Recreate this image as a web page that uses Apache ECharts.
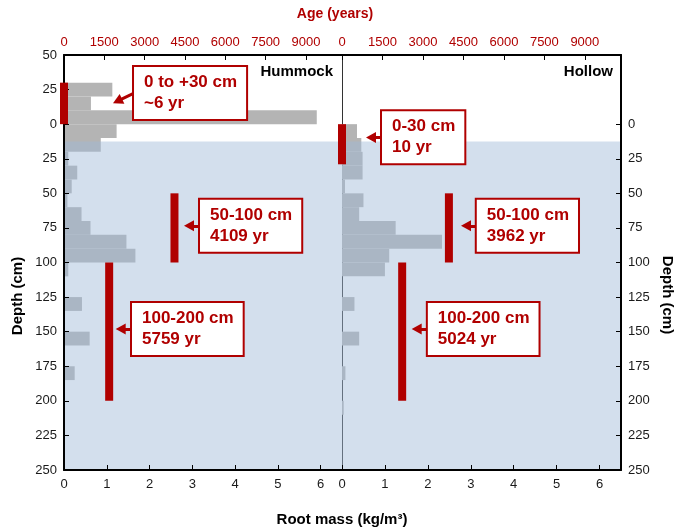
<!DOCTYPE html>
<html><head><meta charset="utf-8">
<script src="https://cdn.jsdelivr.net/npm/echarts@6/dist/echarts.min.js"></script>
<style>html,body{margin:0;padding:0;background:#fff}#c{width:674px;height:531px}</style>
</head><body><div id="c"></div>
<script>
// ---- data ----
const depthTicks = [-50, 250, 25];          // min, max, step (cm; negative = above surface)
const belowTicks = [0, 250, 25];            // right-hand depth labels (below surface only)
const massTicks = [0, 6.5, 1];              // root mass axis (kg/m3)
const ageTicks = [0, 10340, 1500];          // age axis (years)

const hummockTop    = [-30, -20, -10, 0, 10, 20, 30, 40, 50, 60, 70, 80, 90, 100, 125, 150, 175];
const hummockBottom = [-20, -10, 0, 10, 20, 30, 40, 50, 60, 70, 80, 90, 100, 110, 135, 160, 185];
const hummockMass   = [1.13, 0.63, 5.91, 1.23, 0.86, 0.1, 0.31, 0.18, 0.08, 0.41, 0.62, 1.46, 1.67, 0.1, 0.42, 0.6, 0.25];

const hollowTop    = [0, 10, 20, 30, 40, 50, 60, 70, 80, 90, 100, 125, 150, 175, 200];
const hollowBottom = [10, 20, 30, 40, 50, 60, 70, 80, 90, 100, 110, 135, 160, 185, 210];
const hollowMass   = [0.35, 0.45, 0.48, 0.48, 0.07, 0.5, 0.4, 1.25, 2.33, 1.1, 1.0, 0.29, 0.4, 0.08, 0.04];

const waterTableDepth = 12.5;

const hummockAge       = [0, 4109, 1680];
const hummockAgeTop    = [-30, 50, 100];
const hummockAgeBottom = [0, 100, 200];
const hummockLabels = ['0 to +30 cm\n~6 yr', '50-100 cm\n4109 yr', '100-200 cm\n5759 yr'];

const hollowAge       = [0, 3962, 2230];
const hollowAgeTop    = [0, 50, 100];
const hollowAgeBottom = [29, 100, 200];
const hollowLabels = ['0-30 cm\n10 yr', '50-100 cm\n3962 yr', '100-200 cm\n5024 yr'];

// ---- layout (annotation placement in data space) ----
const hummockBoxAt = [[1.637, -22.6], [3.18, 73.4], [1.59, 148]];
const hummockArrows = [[[1.637, -22.4], [1.251, -16.7]], [[3.18, 73.5], [2.923, 73.5]], [[1.59, 148], [1.326, 148]]];
const hollowBoxAt = [[0.932, 9.5], [3.14, 73.4], [2.0, 148]];
const hollowArrows = [[[0.932, 9.7], [0.676, 9.7]], [[3.138, 73.5], [2.889, 73.5]], [[1.997, 148], [1.74, 148]]];

const RED = '#b00000';
const GRAY = '#b4b4b4';
const FONT = 'Liberation Sans, Arial, sans-serif';

const PLOT_TOP = 55, PLOT_H = 415;

function zip(...arrs) { return arrs[0].map((_, i) => arrs.map(a => a[i])); }

const chart = echarts.init(document.getElementById('c'), null, {renderer: 'canvas'});

function massAxis(grid) {
  return {
    type: 'value', gridIndex: grid, position: 'bottom', min: massTicks[0], max: massTicks[1], interval: massTicks[2],
    z: 8,
    axisLine: {show: true, onZero: false, lineStyle: {color: '#000', width: 2}},
    axisTick: {show: true, inside: true, length: 5, lineStyle: {color: '#000', width: 1}},
    axisLabel: {show: true, margin: 8, fontSize: 13, color: '#1a1a1a', fontFamily: FONT, showMaxLabel: false, formatter: v => String(v)},
    splitLine: {show: false}
  };
}
function ageAxis(grid) {
  return {
    type: 'value', gridIndex: grid, position: 'top', min: ageTicks[0], max: ageTicks[1], interval: ageTicks[2],
    z: 8,
    axisLine: {show: true, onZero: false, lineStyle: {color: '#000', width: 2}},
    axisTick: {show: true, inside: true, length: 5, lineStyle: {color: '#000', width: 1}},
    axisLabel: {show: true, margin: 6, fontSize: 13, color: RED, fontFamily: FONT, showMaxLabel: false, formatter: v => String(v)},
    splitLine: {show: false}
  };
}
function depthAxis(grid, pos, labels, ticks, z, lineColor, lineWidth, range) {
  return {
    type: 'value', gridIndex: grid, position: pos, inverse: true,
    min: range[0], max: range[1], interval: range[2], z: z,
    axisLine: {show: lineWidth > 0, onZero: false, lineStyle: {color: lineColor, width: Math.max(lineWidth, 1)}},
    axisTick: {show: ticks, inside: true, length: 5, lineStyle: {color: '#000', width: 1}},
    axisLabel: {show: labels, margin: 7, fontSize: 13, color: '#1a1a1a', fontFamily: FONT, formatter: v => String(Math.abs(v))},
    splitLine: {show: false}
  };
}

function grayBars(xi, yi, tops, bottoms, mass) {
  return {
    type: 'custom', xAxisIndex: xi, yAxisIndex: yi, z: 2, silent: true,
    data: zip(tops, bottoms, mass),
    encode: {x: 2, y: 0},
    renderItem: (params, api) => {
      const p0 = api.coord([0, api.value(0)]);
      const p1 = api.coord([api.value(2), api.value(1)]);
      return {type: 'rect', shape: {x: p0[0], y: p0[1], width: p1[0] - p0[0], height: p1[1] - p0[1]}, style: {fill: GRAY}};
    }
  };
}
function overlay(xi, yi) {
  return {
    type: 'custom', xAxisIndex: xi, yAxisIndex: yi, z: 5, silent: true,
    data: [[massTicks[0], waterTableDepth, massTicks[1], depthTicks[1]]],
    encode: {x: 0, y: 1},
    renderItem: (params, api) => {
      const p0 = api.coord([api.value(0), api.value(1)]);
      const p1 = api.coord([api.value(2), api.value(3)]);
      return {type: 'rect', shape: {x: p0[0], y: p0[1], width: p1[0] - p0[0], height: p1[1] - p0[1]}, style: {fill: 'rgba(159,185,216,0.46)'}};
    }
  };
}
function ageBars(xi, yi, age, tops, bottoms) {
  return {
    type: 'custom', xAxisIndex: xi, yAxisIndex: yi, z: 10, silent: true, clip: false,
    data: zip(age, tops, bottoms),
    encode: {x: 0, y: 1},
    renderItem: (params, api) => {
      const p0 = api.coord([api.value(0), api.value(1)]);
      const p1 = api.coord([api.value(0), api.value(2)]);
      return {type: 'rect', shape: {x: p0[0] - 4, y: p0[1], width: 8, height: p1[1] - p0[1]}, style: {fill: RED}};
    }
  };
}
function annotations(xi, yi, at, labels, arrows) {
  return {
    type: 'scatter', xAxisIndex: xi, yAxisIndex: yi, z: 20, silent: true,
    symbolSize: 0,
    itemStyle: {opacity: 1},
    data: at,
    label: {
      show: true, position: 'right', distance: 0,
      formatter: p => labels[p.dataIndex],
      backgroundColor: '#fff', borderColor: RED, borderWidth: 2, padding: [5, 9, 5, 10],
      fontSize: 17, lineHeight: 21, fontWeight: 'bold', color: RED, fontFamily: FONT, opacity: 1
    },
    markLine: {
      z: 18, silent: true, animation: false, symbol: ['none', 'triangle'], symbolSize: [11, 10],
      label: {show: false},
      itemStyle: {opacity: 1},
      lineStyle: {color: RED, width: 3, type: 'solid', opacity: 1},
      data: arrows.map(a => [{coord: a[0]}, {coord: a[1]}])
    }
  };
}

const labelTop = PLOT_TOP + PLOT_H * (belowTicks[0] - depthTicks[0]) / (depthTicks[1] - depthTicks[0]);

const option = {
  animation: false,
  backgroundColor: '#fff',
  grid: [
    {left: 64, top: PLOT_TOP, width: 278, height: PLOT_H},
    {left: 342, top: PLOT_TOP, width: 279, height: PLOT_H},
    {left: 342, top: labelTop, width: 279, height: PLOT_TOP + PLOT_H - labelTop}
  ],
  xAxis: [massAxis(0), ageAxis(0), massAxis(1), ageAxis(1),
    {type: 'value', gridIndex: 2, show: false, min: 0, max: 1}],
  yAxis: [
    depthAxis(0, 'left', true, true, 8, '#000', 2, depthTicks),
    depthAxis(1, 'left', false, false, 0, '#333', 1, depthTicks),
    depthAxis(1, 'right', false, false, 8, '#000', 2, depthTicks),
    depthAxis(2, 'right', true, true, 8, '#000', 0, belowTicks)
  ],
  graphic: [
    {type: 'text', x: 335, y: 14, style: {text: 'Age (years)', fill: RED, font: 'bold 14px ' + FONT, textAlign: 'center', textVerticalAlign: 'middle'}},
    {type: 'text', x: 342, y: 520, style: {text: 'Root mass (kg/m³)', fill: '#000', font: 'bold 15px ' + FONT, textAlign: 'center', textVerticalAlign: 'middle'}},
    {type: 'text', x: 18, y: 296, rotation: Math.PI / 2, style: {text: 'Depth (cm)', fill: '#000', font: 'bold 15px ' + FONT, textAlign: 'center', textVerticalAlign: 'middle'}},
    {type: 'text', x: 667, y: 295, rotation: -Math.PI / 2, style: {text: 'Depth (cm)', fill: '#000', font: 'bold 15px ' + FONT, textAlign: 'center', textVerticalAlign: 'middle'}},
    {type: 'text', x: 333, y: 72, z: 30, style: {text: 'Hummock', fill: '#000', font: 'bold 15px ' + FONT, textAlign: 'right', textVerticalAlign: 'middle'}},
    {type: 'text', x: 613, y: 72, z: 30, style: {text: 'Hollow', fill: '#000', font: 'bold 15px ' + FONT, textAlign: 'right', textVerticalAlign: 'middle'}}
  ],
  series: [
    grayBars(0, 0, hummockTop, hummockBottom, hummockMass),
    grayBars(2, 1, hollowTop, hollowBottom, hollowMass),
    overlay(0, 0),
    overlay(2, 1),
    ageBars(1, 0, hummockAge, hummockAgeTop, hummockAgeBottom),
    ageBars(3, 1, hollowAge, hollowAgeTop, hollowAgeBottom),
    annotations(0, 0, hummockBoxAt, hummockLabels, hummockArrows),
    annotations(2, 1, hollowBoxAt, hollowLabels, hollowArrows)
  ]
};
chart.setOption(option);
</script>
</body></html>
